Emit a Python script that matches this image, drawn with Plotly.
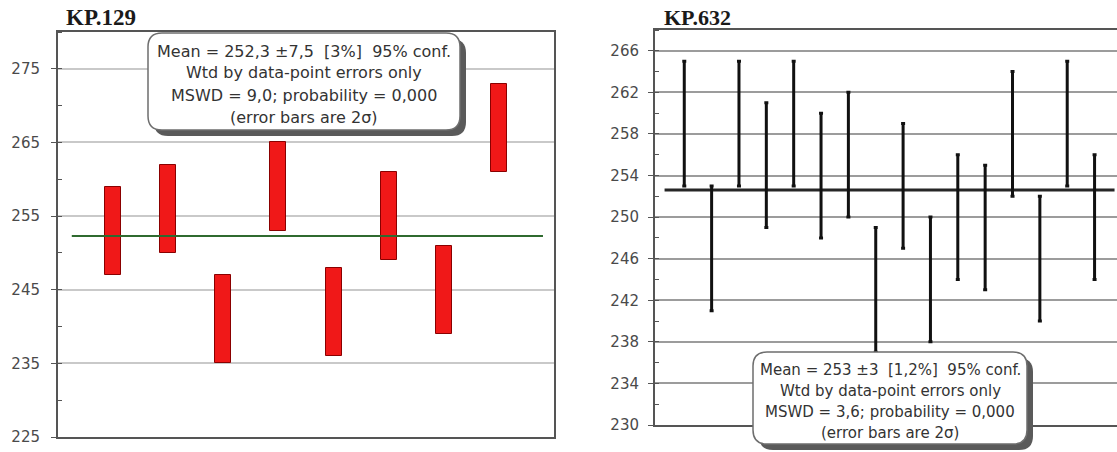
import plotly.graph_objects as go

# ---- data -------------------------------------------------------------
kp129_center = [253, 256, 241, 259, 242, 255, 245, 267]
kp129_err = [6, 6, 6, 6, 6, 6, 6, 6]
kp129_mean = 252.3

kp632_center = [259, 247, 259, 255, 259, 254, 256, 243,
                253, 244, 250, 249, 258, 246, 259, 250]
kp632_err = [6] * 16
kp632_mean = 252.6

kp129_text = ["Mean = 252,3 \u00b17,5  [3%]  95% conf.",
              "Wtd by data-point errors only",
              "MSWD = 9,0; probability = 0,000",
              "(error bars are 2\u03c3)"]
kp632_text = ["Mean = 253 \u00b13  [1,2%]  95% conf.",
              "Wtd by data-point errors only",
              "MSWD = 3,6; probability = 0,000",
              "(error bars are 2\u03c3)"]

W, H = 1117, 452


def px(x):
    return x / W


def py(y):
    return 1 - y / H


fig = go.Figure()

# left panel: red boxes spanning +-2 sigma
x1 = list(range(1, len(kp129_center) + 1))
fig.add_trace(go.Bar(
    x=x1,
    y=[2 * e for e in kp129_err],
    base=[c - e for c, e in zip(kp129_center, kp129_err)],
    width=0.29,
    marker=dict(color="#f01818", line=dict(color="#8a0000", width=1)),
    xaxis="x", yaxis="y", showlegend=False,
))
fig.add_trace(go.Scatter(
    x=[0.25, 8.8], y=[kp129_mean, kp129_mean], mode="lines",
    line=dict(color="#2f6a2f", width=2), xaxis="x", yaxis="y", showlegend=False,
))

# right panel: black error bars
x2 = list(range(1, len(kp632_center) + 1))
fig.add_trace(go.Scatter(
    x=[0.28, 16.73], y=[kp632_mean, kp632_mean], mode="lines",
    line=dict(color="#262626", width=3), xaxis="x2", yaxis="y2", showlegend=False,
))
fig.add_trace(go.Scatter(
    x=x2, y=kp632_center, mode="markers",
    marker=dict(size=1, color="rgba(0,0,0,0)"),
    error_y=dict(type="data", array=kp632_err, color="#111111", thickness=3, width=2),
    xaxis="x2", yaxis="y2", showlegend=False,
))

tickfont = dict(family="DejaVu Sans", size=15, color="#4a4a4a")

fig.update_layout(
    template="none",
    width=W, height=H,
    autosize=False,
    margin=dict(l=0, r=0, t=0, b=0, pad=0),
    paper_bgcolor="white", plot_bgcolor="white",
    bargap=0,
    xaxis=dict(domain=[px(58), px(554)], range=[0, 9], showgrid=False,
               zeroline=False, showticklabels=False, ticks="", automargin=False,
               showline=True, linecolor="#555555", linewidth=2, mirror=True),
    yaxis=dict(domain=[py(437), py(32)], range=[225, 280], tick0=225, dtick=10,
               showgrid=True, gridcolor="#c9c9c9", gridwidth=2, zeroline=False,
               showline=True, linecolor="#555555", linewidth=2, mirror=True,
               ticks="outside", ticklen=5, tickcolor="#555555", tickwidth=1,
               ticklabelstandoff=8, tickfont=tickfont, automargin=False,
               minor=dict(dtick=5, tick0=225, ticks="inside", ticklen=4,
                          tickcolor="#555555", showgrid=False)),
    xaxis2=dict(domain=[px(655), 1], range=[-0.07, 16.82], showgrid=False,
                zeroline=False, showticklabels=False, ticks="", automargin=False,
                showline=True, linecolor="#555555", linewidth=2, mirror=True,
                anchor="y2"),
    yaxis2=dict(domain=[py(425), py(30)], range=[230, 268], tick0=230, dtick=4,
                showgrid=True, gridcolor="#9c9c9c", gridwidth=2, zeroline=False,
                showline=True, linecolor="#555555", linewidth=2,
                ticks="outside", ticklen=5, tickcolor="#555555", tickwidth=1,
                ticklabelstandoff=6, tickfont=tickfont, anchor="x2", automargin=False,
                minor=dict(dtick=2, tick0=230, ticks="inside", ticklen=4,
                           tickcolor="#555555", showgrid=False)),
)


def rounded_box(x0, y0, x1, y1, r):
    rx, ry = r / W, r / H
    a, b, c, d = px(x0), px(x1), py(y0), py(y1)
    return (f"M {a + rx},{c} L {b - rx},{c} Q {b},{c} {b},{c - ry} "
            f"L {b},{d + ry} Q {b},{d} {b - rx},{d} "
            f"L {a + rx},{d} Q {a},{d} {a},{d + ry} "
            f"L {a},{c - ry} Q {a},{c} {a + rx},{c} Z")


shapes = []
for (x0, y0, x1, y1) in [(148, 33, 460, 130), (753, 352, 1027, 444)]:
    shapes.append(dict(type="path", xref="paper", yref="paper", layer="above",
                       path=rounded_box(x0 + 6, y0 + 6, x1 + 6, y1 + 6, 14),
                       fillcolor="#5a5a5a", line=dict(width=0)))
    shapes.append(dict(type="path", xref="paper", yref="paper", layer="above",
                       path=rounded_box(x0, y0, x1, y1, 14),
                       fillcolor="white", line=dict(color="#6e6e6e", width=1.5)))
fig.update_layout(shapes=shapes)

annotations = [
    dict(text="<b>KP.129</b>", x=px(64), y=py(18), xanchor="left", yanchor="middle",
         font=dict(family="Liberation Serif", size=23, color="#1a1a1a")),
    dict(text="<b>KP.632</b>", x=px(662), y=py(18), xanchor="left", yanchor="middle",
         font=dict(family="Liberation Serif", size=22, color="#1a1a1a")),
]
for i, line in enumerate(kp129_text):
    annotations.append(dict(text=line, x=px(304), y=py(51 + 22 * i),
                            xanchor="center", yanchor="middle",
                            font=dict(family="DejaVu Sans", size=16, color="#333333")))
for i, line in enumerate(kp632_text):
    annotations.append(dict(text=line, x=px(890), y=py(370 + 21 * i),
                            xanchor="center", yanchor="middle",
                            font=dict(family="DejaVu Sans", size=15, color="#333333")))
for a in annotations:
    a.update(xref="paper", yref="paper", showarrow=False)
fig.update_layout(annotations=annotations)

fig.write_html("out.html")
